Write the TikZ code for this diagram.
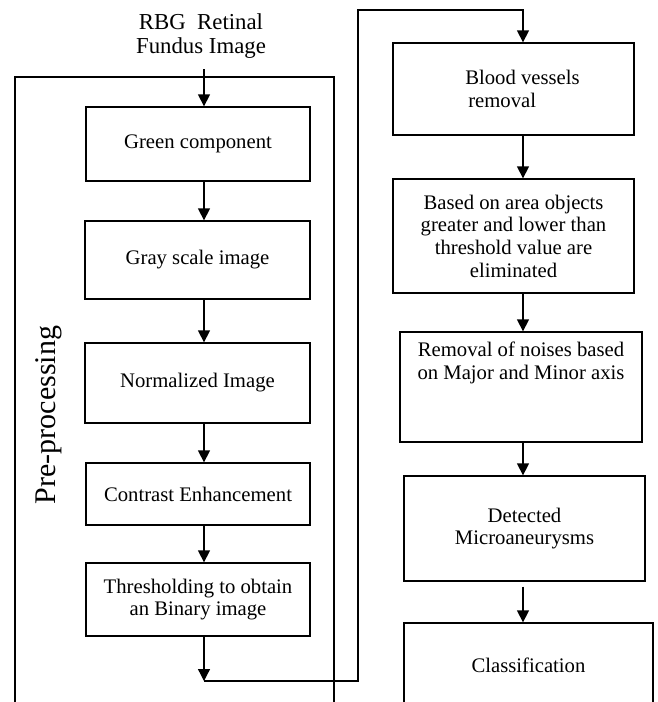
\documentclass[tikz,border=0pt]{standalone}
\usepackage{fontspec}
\setmainfont{Liberation Serif}
\usetikzlibrary{arrows.meta}
\begin{document}
\begin{tikzpicture}[x=1pt,y=-1pt,
  box/.style={draw, line width=1.3pt, inner sep=0pt, align=center,
    font=\fontsize{20.7}{22.7}\selectfont},
  conn/.style={line width=1.3pt, -{Triangle[length=12pt,width=12pt]}},
  frameline/.style={line width=1.3pt}]
\useasboundingbox (0,0) rectangle (657,702);
\clip (0,0) rectangle (657,702);

% title
\node[align=center, inner sep=0pt, font=\fontsize{22.8}{24}\selectfont] (title) at (201,36)
  {RBG\hspace{0.25em} Retinal\\Fundus Image};

% pre-processing frame
\draw[frameline] (15,710) |- (334,77) -- (334,710);
\node[rotate=90, inner sep=0pt, font=\fontsize{30}{30}\selectfont] (pp) at (49,415) {Pre-processing};

% left column
\node[box, minimum width=224pt, minimum height=74pt] (g) at (198,144) {Green component};
\node[box, minimum width=225pt, minimum height=78pt] (gr) at (197.5,260) {Gray scale image};
\node[box, minimum width=225pt, minimum height=80pt] (n) at (197.5,383) {Normalized Image};
\node[box, minimum width=224pt, minimum height=62pt] (c) at (198,494) {Contrast Enhancement};
\node[box, minimum width=224pt, minimum height=73pt] (t) at (198,599.5) {Thresholding to obtain\\an Binary image};

% right column
\node[box, minimum width=241pt, minimum height=92pt, align=left] (A) at (513.5,89)
  {\hspace*{18pt}Blood vessels\\\hspace*{21pt}removal};
\node[box, minimum width=241pt, minimum height=114pt] (B) at (513.5,236)
  {Based on area objects\\greater and lower than\\threshold value are\\eliminated};
\node[box, minimum width=242pt, minimum height=110pt] (C) at (521,387)
  {Removal of noises based\\on Major and Minor axis\\\strut\\\strut};
\node[box, minimum width=241pt, minimum height=105pt] (D) at (524.5,528.5)
  {Detected\\Microaneurysms};
\node[box, minimum width=249pt, minimum height=84pt] (E) at (528.5,665)
  {Classification};

% coordinates for connectors
\coordinate (tin) at (204,69);
\coordinate (j) at (204,681);
\coordinate (r1) at (358,681);
\coordinate (r2) at (358,10);
\coordinate (r3) at (523,10);

% left arrows
\draw[conn] (tin) -- (g.north -| tin);
\draw[conn] (g.south -| tin) -- (gr.north -| tin);
\draw[conn] (gr.south -| tin) -- (n.north -| tin);
\draw[conn] (n.south -| tin) -- (c.north -| tin);
\draw[conn] (c.south -| tin) -- (t.north -| tin);
\draw[conn] (t.south -| tin) -- (j);

% link to right column
\draw[conn] (j) -- (r1) -- (r2) -- (r3) -- (A.north -| r3);

% right arrows
\draw[conn] (A.south -| r3) -- (B.north -| r3);
\draw[conn] (B.south -| r3) -- (C.north -| r3);
\draw[conn] (C.south -| r3) -- (D.north -| r3);
\draw[conn] ([yshift=-5pt]D.south -| r3) -- (E.north -| r3);
\end{tikzpicture}
\end{document}
